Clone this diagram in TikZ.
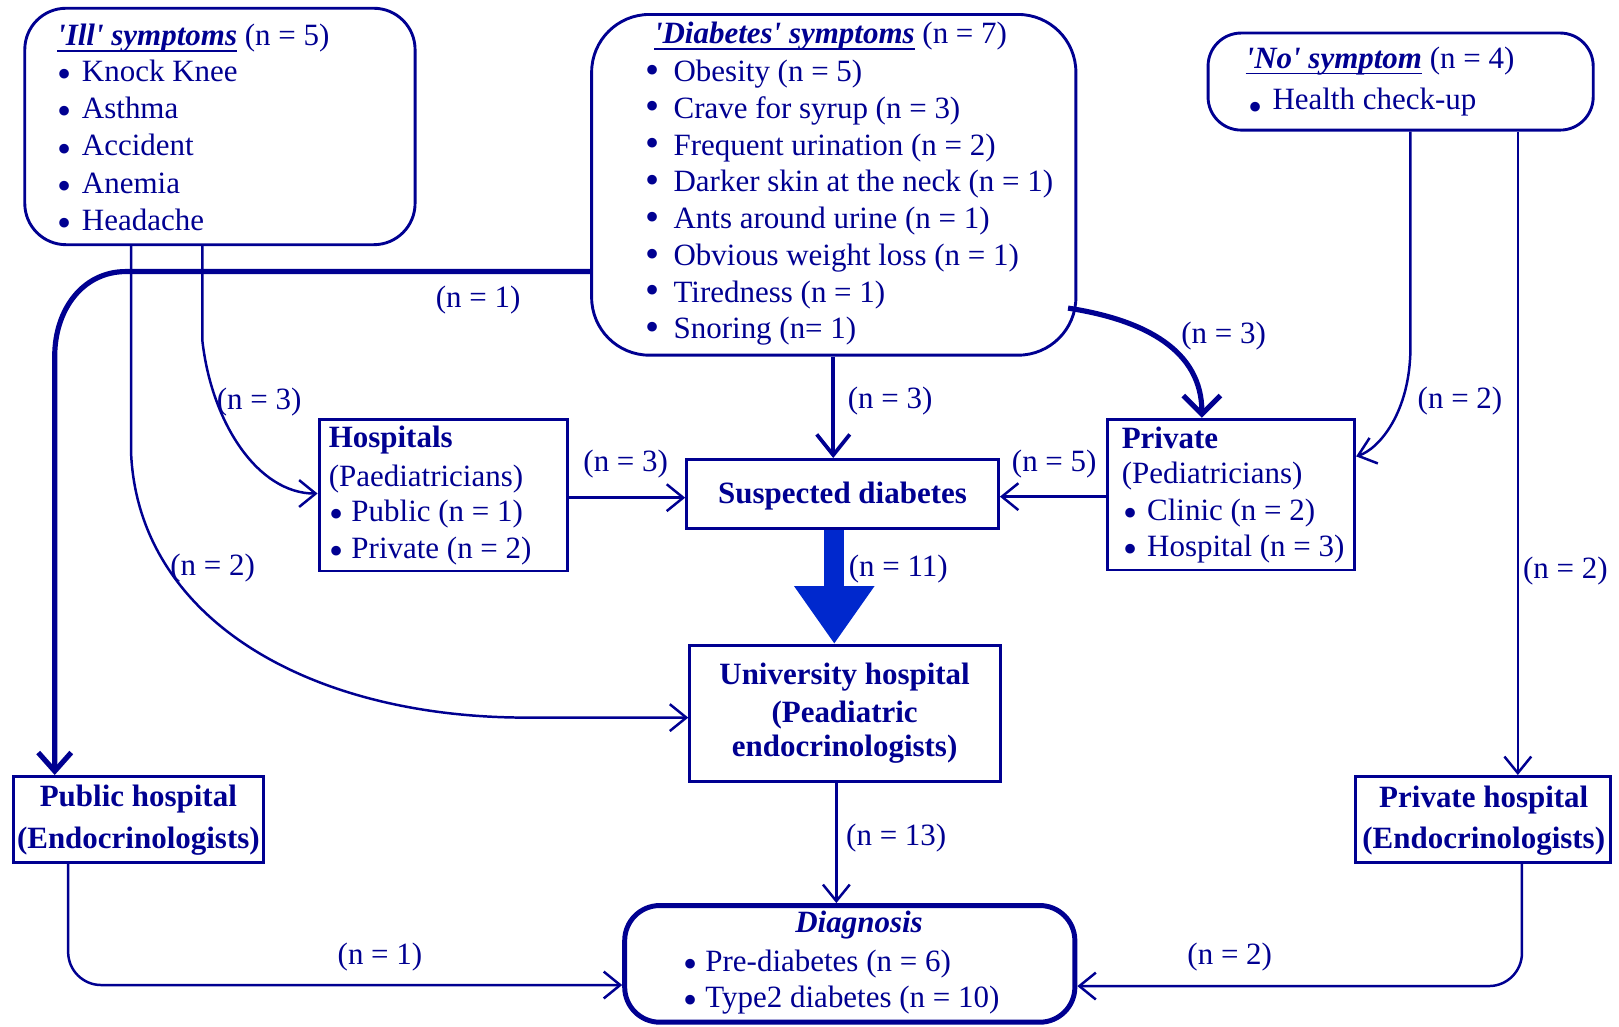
\documentclass[tikz,border=0pt]{standalone}
\usepackage{fontspec}
\setmainfont{Liberation Serif}
\usetikzlibrary{arrows.meta,fit,calc}
\definecolor{ink}{RGB}{0,0,145}
\definecolor{bigarrow}{RGB}{0,40,205}
% underlined heading whose rule cuts just under the baseline
\newcommand\headline[1]{\setbox0\hbox{#1}\rlap{\rule[-3pt]{\wd0}{0.7pt}}\box0\relax}
% bullet in a box of fixed width, shifted vertically by #2
\newcommand\itm[2]{\makebox[#1][l]{\raisebox{#2}[0pt][0pt]{\scalebox{1.3}{\textbullet}}}}
\begin{document}
\begin{tikzpicture}[x=0.5pt,y=-0.5pt,font=\fontsize{15}{18}\selectfont,
  rbox/.style={draw=ink,line width=1.4pt,inner sep=0pt},
  txt/.style={inner sep=0pt,anchor=base west,text=ink},
  ctxt/.style={inner sep=0pt,anchor=base,text=ink},
  lbl/.style={inner sep=0pt,text=ink},
  link/.style={draw=ink,line width=1.2pt,-{Straight Barb[length=8pt,width=13pt]}},
  boldlink/.style={draw=ink,line width=2.5pt,-{Straight Barb[length=9pt,width=18pt]}}]
\useasboundingbox (0,0) rectangle (1568,994);

% ---------- boxes ----------
\node[rbox,rounded corners=20pt,fit={(24,8)(402,237)}] (ill) {};
\node[rbox,rounded corners=28pt,fit={(573,14)(1042,344)}] (diab) {};
\node[rbox,rounded corners=16pt,fit={(1170,32)(1543,126)}] (no) {};
\node[rbox,fit={(309,406)(550,553)}] (hosp) {};
\node[rbox,fit={(665,445)(967,512)}] (susp) {};
\node[rbox,fit={(1073,406)(1312,552)}] (priv) {};
\node[rbox,fit={(668,625)(969,757)}] (univ) {};
\node[rbox,fit={(13,752)(255,835)}] (pubh) {};
\node[rbox,fit={(1313,752)(1560,835)}] (privh) {};
\node[rbox,line width=2.4pt,rounded corners=17pt,fit={(605,877)(1041,990)}] (diag) {};

% ---------- box texts ----------
\node[txt] (illT) at (55,44) {\headline{\textbf{\textit{\textquotesingle Ill\textquotesingle\ symptoms}}} (n = 5)};
\foreach \t [count=\i from 0] in {Knock Knee,Asthma,Accident,Anemia,Headache}
  \node[txt] (ill\i) at (55,{79+36*\i}) {\itm{12pt}{-3pt}\t};

\node[txt] (diabT) at (633,42) {\headline{\textbf{\textit{\textquotesingle Diabetes\textquotesingle\ symptoms}}} (n = 7)};
\foreach \t [count=\i from 0] in {Obesity (n = 5),Crave for syrup (n = 3),Frequent urination (n = 2),Darker skin at the neck (n = 1),Ants around urine (n = 1),Obvious weight loss (n = 1),Tiredness (n = 1),Snoring (n= 1)}
  \node[txt] (diab\i) at (625,{79+35.6*\i}) {\itm{13.5pt}{-0.8pt}\t};

\node[txt] (noT) at (1206,66) {\headline{\textbf{\textit{\textquotesingle No\textquotesingle\ symptom}}} (n = 4)};
\node[txt] (no0) at (1209,106.5) {\itm{11.5pt}{-5pt}Health check-up};

\node[txt] (hospT) at (318,433) {\textbf{Hospitals}};
\node[txt] (hosp1) at (318,471) {(Paediatricians)};
\node[txt] (hosp2) at (319,505) {\itm{10.5pt}{-3pt}Public (n = 1)};
\node[txt] (hosp3) at (319,541) {\itm{10.5pt}{-3pt}Private (n = 2)};

\node[txt] (privT) at (1086,434) {\textbf{Private}};
\node[txt] (priv1) at (1086,468) {(Pediatricians)};
\node[txt] (priv2) at (1088,504) {\itm{11.3pt}{-3pt}Clinic (n = 2)};
\node[txt] (priv3) at (1088,539) {\itm{11.3pt}{-3pt}Hospital (n = 3)};

\node[ctxt] (suspT) at (816,488) {\textbf{Suspected diabetes}};

\node[ctxt] (univ1) at (818,663) {\textbf{University hospital}};
\node[ctxt] (univ2) at (818,700) {\textbf{(Peadiatric}};
\node[ctxt] (univ3) at (818,733) {\textbf{endocrinologists)}};

\node[ctxt] (pubh1) at (134,781) {\textbf{Public hospital}};
\node[ctxt] (pubh2) at (134,821.5) {\textbf{(Endocrinologists)}};

\node[ctxt] (privh1) at (1437,782.5) {\textbf{Private hospital}};
\node[ctxt] (privh2) at (1437,821.5) {\textbf{(Endocrinologists)}};

\node[ctxt] (diagT) at (832,903.5) {\textbf{\textit{Diagnosis}}};
\node[txt] (diag1) at (662,941) {\itm{10.4pt}{-3pt}Pre-diabetes (n = 6)};
\node[txt] (diag2) at (662,976) {\itm{10.4pt}{-3pt}Type2 diabetes (n = 10)};

% ---------- connectors ----------
\draw[boldlink,-{Straight Barb[length=9pt,width=16pt]}]
  (diab.west |- 0,263) -- (122,263) .. controls (80,263) and (53,300) .. (53,345)
  -- (53,0 |- pubh.north);
\draw[link] (127,0 |- ill.south) -- (127,440)
  .. controls (135,600) and (300,695) .. (510,695) -- (univ.west |- 0,695);
\draw[link] (196,0 |- ill.south) -- (196,330)
  .. controls (205,410) and (250,478) .. (hosp.west |- 0,478);
\draw[draw=ink,line width=1.8pt,-{Straight Barb[length=10pt,width=16pt]}]
  (807,0 |- diab.south) -- (807,0 |- susp.north);
\draw[boldlink] ($(diab.south east)+(-9,-47)$)
  .. controls (1110,310) and (1164,340) .. (1164,0 |- priv.north);
\draw[link] (1366,0 |- no.south) -- (1366,336)
  .. controls (1366,400) and (1335,435) .. (priv.east |- 0,442);
\draw[link] (1470,0 |- no.south) -- (1470,0 |- privh.north);
\draw[link] (hosp.east |- 0,482) -- (susp.west |- 0,482);
\draw[link] (priv.west |- 0,481) -- (susp.east |- 0,481);
\draw[bigarrow,line width=9.5pt,-{Triangle[length=28pt,width=37pt]}]
  (808,0 |- susp.south) -- (808,0 |- univ.north);
\draw[link] (810,0 |- univ.south) -- (810,0 |- diag.north);
\draw[link,rounded corners=16pt] (66,0 |- pubh.south) |- (diag.west |- 0,954);
\draw[link,rounded corners=16pt] (1474,0 |- privh.south) |- (diag.east |- 0,955);

% ---------- counts on the connectors ----------
\node[lbl] (c1) at (463,291) {(n = 1)};
\node[lbl] (c2) at (251,389) {(n = 3)};
\node[lbl] (c3) at (206,550) {(n = 2)};
\node[lbl] (c4) at (862,388) {(n = 3)};
\node[lbl] (c5) at (606,449) {(n = 3)};
\node[lbl] (c6) at (1021,449) {(n = 5)};
\node[lbl] (c7) at (1185,325) {(n = 3)};
\node[lbl] (c8) at (1414,388) {(n = 2)};
\node[lbl] (c9) at (1516,553) {(n = 2)};
\node[lbl] (c10) at (870,551) {(n = 11)};
\node[lbl] (c11) at (868,812) {(n = 13)};
\node[lbl] (c12) at (368,927) {(n = 1)};
\node[lbl] (c13) at (1191,927) {(n = 2)};
\end{tikzpicture}
\end{document}
